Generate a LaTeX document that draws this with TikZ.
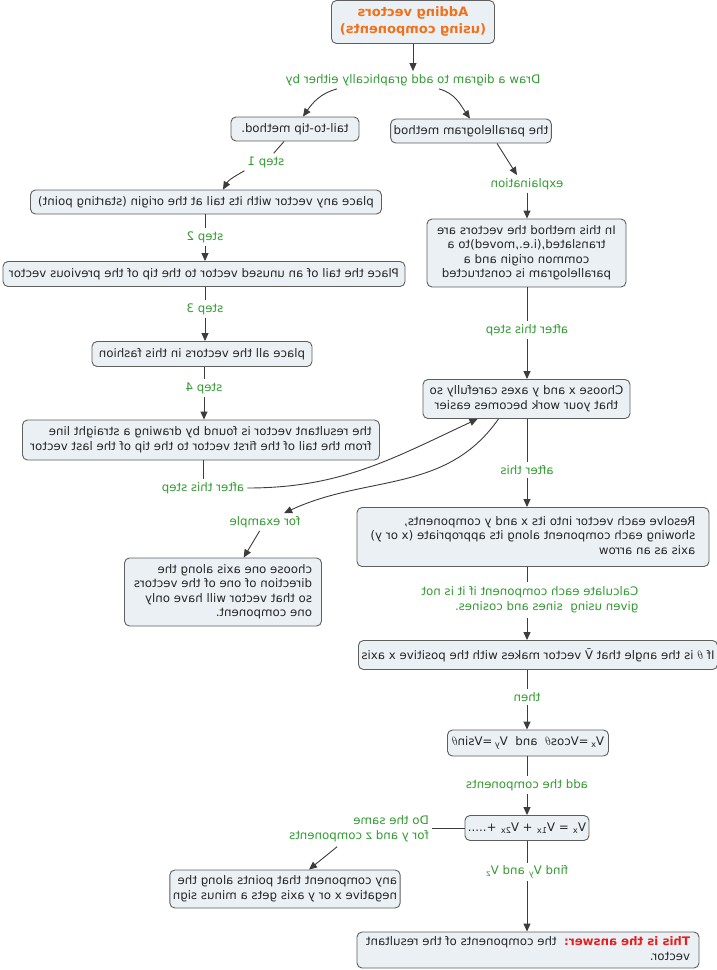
\documentclass[tikz,border=0pt]{standalone}
\usepackage{fontspec}
\setmainfont{DejaVu Sans}
\usepackage{graphicx}
\usetikzlibrary{arrows.meta}
\definecolor{boxfill}{RGB}{234,240,244}
\definecolor{boxdraw}{RGB}{95,95,95}
\definecolor{lnk}{RGB}{50,155,50}
\definecolor{ttl}{RGB}{242,112,26}
\definecolor{ans}{RGB}{230,30,30}
\definecolor{wirec}{RGB}{60,60,60}
\newcommand{\mir}[1]{\scalebox{-1}[1]{#1}}
\newcommand{\mirl}[1]{\mir{\begin{tabular}{@{}l@{}}#1\end{tabular}}}
\newcommand{\mirc}[1]{\mir{\begin{tabular}{@{}c@{}}#1\end{tabular}}}
\begin{document}
\begin{tikzpicture}[x=1pt,y=1pt,
  font=\fontsize{11.8}{14.5}\selectfont,
  box/.style={draw=boxdraw, fill=boxfill, rounded corners=5pt, line width=0.9pt, inner sep=3pt, text=black!85},
  lab/.style={text=lnk, inner sep=3pt},
  wire/.style={draw=wirec, line width=0.9pt},
  arr/.style={wire, -{Triangle[length=8pt,width=7pt]}}]
\fill[white] (0,0) rectangle (716,-970);
\useasboundingbox (0,0) rectangle (716,-970);

% left column
\node[box, minimum width=163, minimum height=43, font=\fontsize{13}{17}\selectfont\bfseries, text=ttl] (title) at (413,-22) {\mirc{Adding vectors\\(using components)}};
\node[lab] (ldraw) at (413,-80) {\mir{Draw a digram to add graphically either by}};
\node[box, minimum width=128, minimum height=24] (tail) at (295,-129) {\mir{tail-to-tip method.}};
\node[box, minimum width=142, minimum height=24] (para) at (471,-131) {\mir{the parallelogram method}};
\node[lab] (ls1) at (266,-162) {\mir{step 1}};
\node[box, minimum width=351, minimum height=24] (place) at (206,-202) {\mir{place any vector with its tail at the origin (starting point)}};
\node[lab] (ls2) at (205,-237) {\mir{step 2}};
\node[box, minimum width=402, minimum height=25] (ptail) at (204,-274) {\mir{Place the tail of an unused vector to the tip of the previous vector}};
\node[lab] (ls3) at (205,-309) {\mir{step 3}};
\node[box, minimum width=220, minimum height=25] (pall) at (202,-354) {\mir{place all the vectors in this fashion}};
\node[lab] (ls4) at (204,-388) {\mir{step 4}};
\node[box, minimum width=357, minimum height=40] (result) at (201,-440) {\mirl{the resultant vector is found by drawing a straight line\\from the tail of the first vector to the tip of the last vector}};
\node[lab] (la1) at (203,-488) {\mir{after this step}};
\node[lab] (lfor) at (265,-522) {\mir{for example}};
\node[box, minimum width=197, minimum height=68] (chone) at (223,-592) {\mirl{choose one axis along the\\direction of one of the vectors\\so that vector will have only\\one component.}};

% right column
\node[lab] (lexp) at (527,-184) {\mir{explaination}};
\node[box, minimum width=199, minimum height=68] (inthis) at (526.5,-253) {\mirc{In this method the vectors are\\translated,(i.e.,moved)to a\\common origin and a\\parallelogram is constructed}};
\node[lab] (la2) at (527,-330) {\mir{after this step}};
\node[box, minimum width=207, minimum height=39] (chx) at (526.5,-399) {\mirc{Choose x and y axes carefully so\\that your work becomes easier}};
\node[lab] (la3) at (527,-470) {\mir{after this}};
\node[box, minimum width=352, minimum height=59] (resolve) at (533,-537) {\mirl{Resolve each vector into its x and y components,\\showing each component along its appropriate (x or y)\\axis as an arrow}};
\node[lab] (lcalc) at (530,-600) {\mirl{Calculate each component if it is not\\given using\ \ sines and cosines.}};
\node[box, minimum width=348, minimum height=29] (ifth) at (538,-655) {\mir{If $\theta$ is the angle that \={V} vector makes with the positive x axis}};
\node[lab] (lthen) at (527,-697) {\mir{then}};
\node[box, minimum width=161, minimum height=26] (vxy) at (528,-743) {\mir{V\textsubscript{x}\,=Vcos$\theta$ \ and \ V\textsubscript{y}\,=Vsin$\theta$}};
\node[lab] (ladd) at (527,-785) {\mir{add the components}};
\node[box, minimum width=123, minimum height=25] (vsum) at (527,-828) {\mir{V\textsubscript{x} = V\textsubscript{1x} + V\textsubscript{2x} +.....}};
\node[lab] (ldo) at (359,-829) {\mirl{Do the same\\for y and z components}};
\node[box, minimum width=227, minimum height=38] (anyc) at (285,-889) {\mirl{any component that points along the\\negative x or y axis gets a minus sign}};
\node[lab] (lfind) at (527,-872) {\mir{find V\textsubscript{y} and V\textsubscript{z}}};
\node[box, minimum width=342, minimum height=36] (answer) at (528,-950) {\mirl{\textcolor{ans}{\textbf{This is the answer:}}\ \ the components of the resultant\\vector.}};

% connectors
\draw[arr] (title) -- (ldraw);
\draw[arr] ([xshift=-76pt]ldraw.south) to[out=195,in=55] ([xshift=8pt]tail.north);
\draw[arr] ([xshift=26pt]ldraw.south) to[out=-15,in=125] ([xshift=-1pt]para.north);
\draw[wire] (tail) -- (ls1);
\draw[arr] (ls1.south west) to[out=210,in=60] ([xshift=17pt]place.north);
\draw[wire] (ls2 |- place.south) -- (ls2);
\draw[arr] (ls2) -- (ls2 |- ptail.north);
\draw[wire] (ls3 |- ptail.south) -- (ls3);
\draw[arr] (ls3) -- (ls3 |- pall.north);
\draw[wire] (ls4 |- pall.south) -- (ls4);
\draw[arr] (ls4) -- (ls4 |- result.north);
\draw[wire] (la1 |- result.south) -- (la1);
\draw[arr] (la1.east) to[out=0,in=205] ([xshift=-49pt]chx.south);
\draw[arr] ([xshift=-28pt]chx.south) to[out=235,in=25] (lfor);
\draw[arr] (lfor) -- (chone);

\draw[arr] ([xshift=26pt]para.south) -- ([xshift=-10pt]lexp.north);
\draw[arr] (lexp) -- (lexp |- inthis.north);
\draw[wire] (la2 |- inthis.south) -- (la2);
\draw[arr] (la2) -- (la2 |- chx.north);
\draw[wire] (la3 |- chx.south) -- (la3);
\draw[arr] (la3) -- (la3 |- resolve.north);
\draw[wire] (la3 |- resolve.south) -- (la3 |- lcalc.north);
\draw[arr] (la3 |- lcalc.south) -- (la3 |- ifth.north);
\draw[wire] (lthen |- ifth.south) -- (lthen);
\draw[arr] (lthen) -- (lthen |- vxy.north);
\draw[wire] (ladd |- vxy.south) -- (ladd);
\draw[arr] (ladd) -- (ladd |- vsum.north);
\draw[wire] (vsum.west) -- (vsum.west -| ldo.east);
\draw[arr] (ldo) -- (anyc);
\draw[wire] (lfind |- vsum.south) -- (lfind);
\draw[arr] (lfind) -- (lfind |- answer.north);
\end{tikzpicture}
\end{document}
